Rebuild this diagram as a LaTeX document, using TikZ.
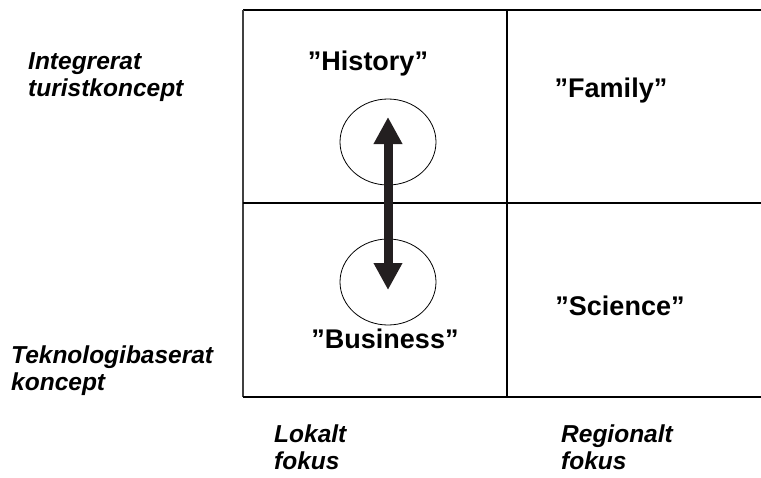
\documentclass[tikz,border=0pt]{standalone}
\usepackage{fontspec}
\setmainfont{Liberation Sans}
\usetikzlibrary{arrows.meta,shapes.geometric}
\definecolor{inkdark}{HTML}{231F20}
\tikzset{
	axislabel/.style={font=\bfseries\itshape\fontsize{24.5}{27}\selectfont, align=left, inner sep=0pt, anchor=base west},
	casename/.style={font=\bfseries\fontsize{27}{30}\selectfont, inner sep=0pt, anchor=base},
	ring/.style={draw, ellipse, minimum width=96pt, minimum height=86pt, line width=0.8pt},
	gridline/.style={line width=1.3pt},
	bigarrow/.style={line width=9pt, inkdark, {Triangle[width=27pt,length=27pt]}-{Triangle[width=27pt,length=27pt]}}
}
\begin{document}
\begin{tikzpicture}[x=1pt,y=-1pt]
			\useasboundingbox (0,0) rectangle (761,477);
			\draw[gridline] (761,10) -- (243,10);
			\draw[line width=2.2pt, black!75] (243,10) -- (243,397);
			\draw[gridline] (243,397) -- (761,397);
			\draw[gridline] (243,203) -- (761,203);
			\draw[gridline] (507,10) -- (507,397);
			\node[ring] (histring) at (388,142) {};
			\node[ring] (busring) at (388,282) {};
			\draw[bigarrow] ([yshift=25pt]histring.center) -- ([yshift=-8pt]busring.center);
			\node[casename] (history) at (368,70) {”History”};
			\node[casename] (family) at (611,97) {”Family”};
			\node[casename] (science) at (620,315) {”Science”};
			\node[casename] (business) at (385,348) {”Business”};
			\node[axislabel] (integrerat) at (28,96) {Integrerat\\turistkoncept};
			\node[axislabel] (teknologi) at (11,390) {Teknologibaserat\\koncept};
			\node[axislabel] (lokalt) at (274,469) {Lokalt\\fokus};
			\node[axislabel] (regionalt) at (561,469) {Regionalt\\fokus};
		\end{tikzpicture}
\end{document}
